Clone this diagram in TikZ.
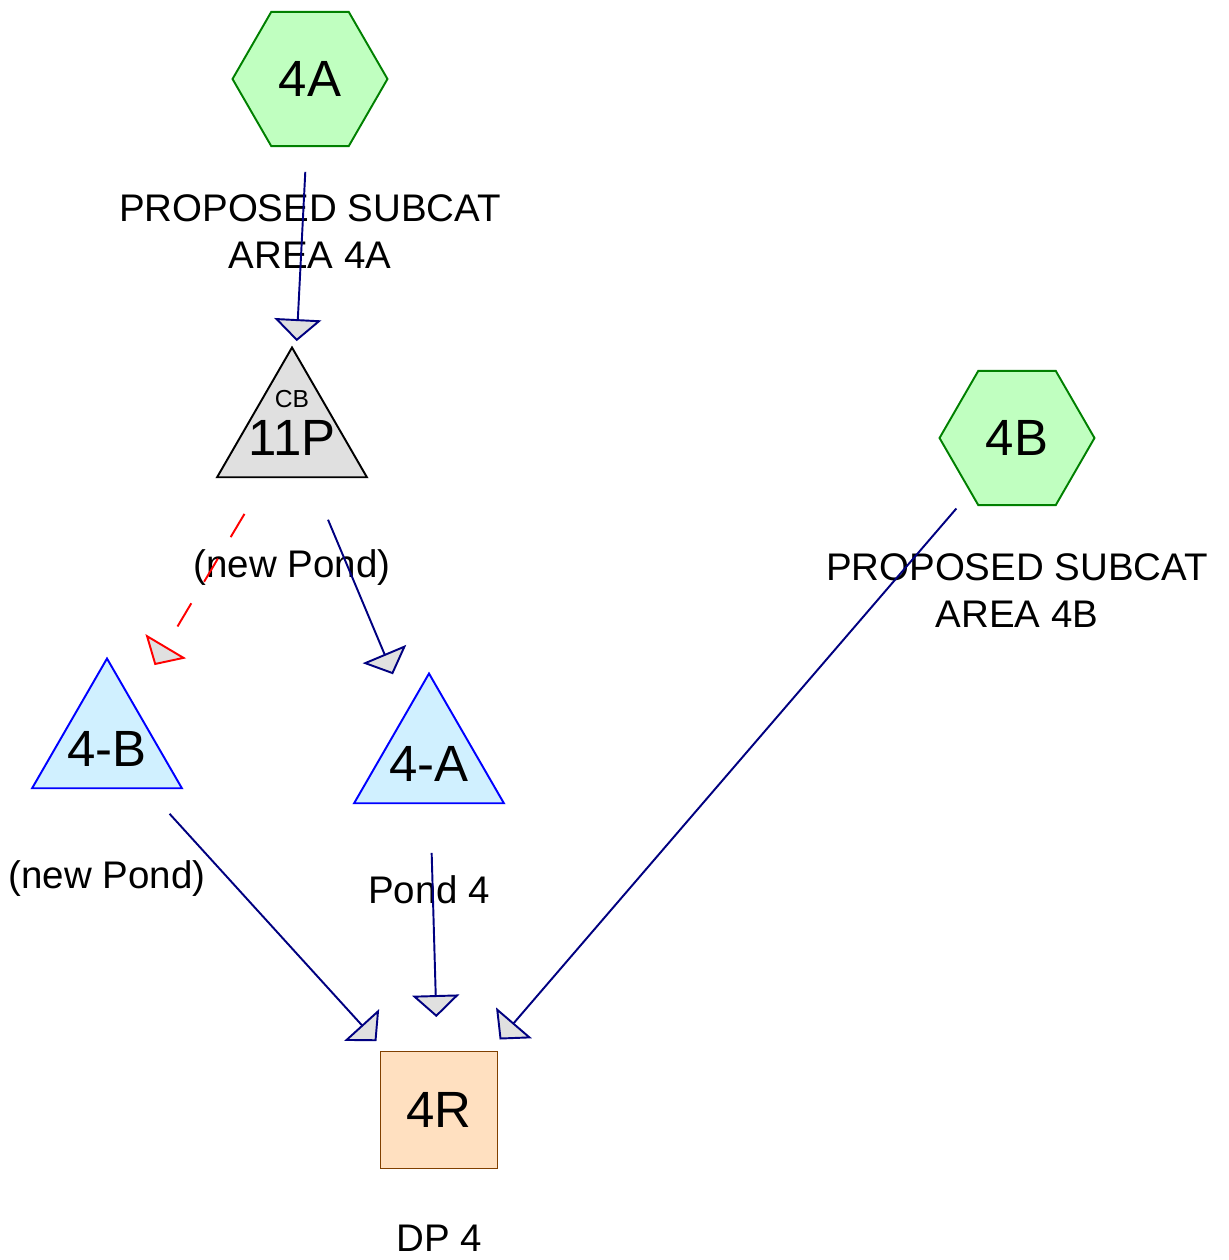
\documentclass[tikz,border=0pt]{standalone}
\usepackage{fontspec}
\setmainfont{Liberation Sans}
\usetikzlibrary{shapes.geometric,arrows.meta,positioning}

\definecolor{subfill}{RGB}{192,255,192}
\definecolor{subline}{RGB}{0,128,0}
\definecolor{pondfill}{RGB}{208,240,255}
\definecolor{cbfill}{RGB}{224,224,224}
\definecolor{reachfill}{RGB}{255,224,192}
\definecolor{reachline}{RGB}{128,64,0}
\definecolor{flowline}{RGB}{0,0,128}
\definecolor{tipfill}{RGB}{224,224,224}

\newcommand{\bignum}{\fontsize{29}{34}\selectfont}
\newcommand{\lblfont}{\fontsize{21.9}{26.7}\selectfont}
\newcommand{\cbfont}{\fontsize{14}{17}\selectfont}

\begin{document}
\begin{tikzpicture}[x=0.02cm, y=-0.02cm,
        subcat/.style={regular polygon, regular polygon sides=6, minimum size=3.1cm,
                inner sep=0pt, draw=subline, fill=subfill, line width=1.1pt, font=\bignum},
        pond/.style={regular polygon, regular polygon sides=3, minimum size=3.46cm,
                inner xsep=-0.4cm, inner ysep=0pt, text height=24pt, text depth=0pt,
                draw=blue, fill=pondfill, line width=1.1pt, font=\bignum},
        reach/.style={rectangle, minimum size=2.34cm, draw=reachline, fill=reachfill,
                line width=1.1pt, font=\bignum},
        lbl/.style={inner sep=0pt, align=center, font=\lblfont},
        flow/.style={draw=flowline, line width=1.1pt, shorten <=1.86cm, shorten >=1.86cm,
                -{Triangle[length=0.44cm, width=0.94cm, fill=tipfill]}},
        spill/.style={flow, draw=red, dash pattern=on 0.54cm off 0.5cm}
    ]
    \useasboundingbox (0,0) rectangle (1228,1260);

    \node[subcat] (sub4A) at (310,79) {4A};
    \node[subcat] (sub4B) at (1017,438) {4B};
    \node[pond, draw=black, fill=cbfill,
        label={[font=\cbfont, inner sep=0pt, yshift=0.7cm]center:CB}] (pond11P) at (292,434) {11P};
    \node[pond] (pond4B) at (107,745) {4-B};
    \node[pond] (pond4A) at (429,760) {4-A};
    \node[reach] (reach4R) at (439,1110) {4R};

    \node[lbl, below=2.3cm of sub4A.center] (lab4A) {PROPOSED SUBCAT\\AREA 4A};
    \node[lbl, below=2.3cm of sub4B.center] (lab4B) {PROPOSED SUBCAT\\AREA 4B};
    \node[lbl, below=2.3cm of pond11P.center] (lab11P) {(new Pond)};
    \node[lbl, below=2.3cm of pond4B.center] (lab4B2) {(new Pond)};
    \node[lbl, below=2.3cm of pond4A.center] (lab4A2) {Pond 4};
    \node[lbl, below=2.3cm of reach4R.center] (lab4R) {DP 4};

    \draw[flow] (sub4A.center) -- (pond11P.center);
    \draw[spill] (pond11P.center) -- (pond4B.center);
    \draw[flow] (pond11P.center) -- (pond4A.center);
    \draw[flow] (pond4B.center) -- (reach4R.center);
    \draw[flow] (pond4A.center) -- (reach4R.center);
    \draw[flow] (sub4B.center) -- (reach4R.center);
\end{tikzpicture}
\end{document}
